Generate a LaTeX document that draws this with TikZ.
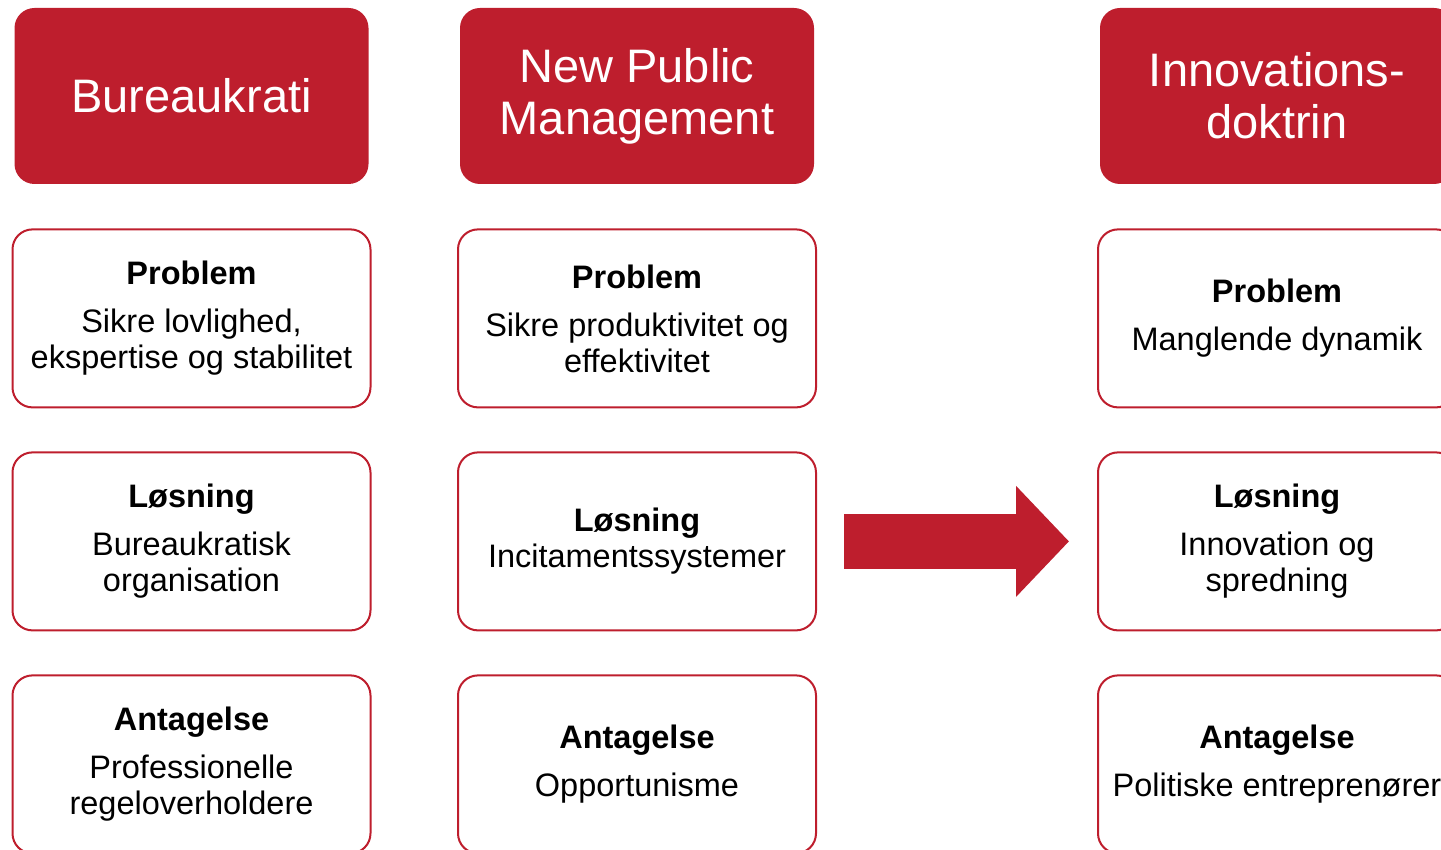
\documentclass[tikz,border=0pt]{standalone}
\usepackage{fontspec}
\setmainfont{Liberation Sans}
\usetikzlibrary{positioning, calc, arrows.meta}
\definecolor{dkred}{HTML}{BE1E2D}
\tikzset{
x=0.5pt, y=-0.5pt, % one unit is one pixel of the slide
node distance=21.5pt, % gap between the boxes of a column
head/.style={rectangle, rounded corners=10pt, fill=dkred, text=white, minimum width=177pt, minimum height=88pt, align=center, font=\fontsize{23.5}{26}\selectfont}, % red title boxes
item/.style={rectangle, rounded corners=10pt, draw=dkred, line width=1pt, fill=white, minimum width=179pt, minimum height=89pt, align=center, font=\fontsize{16.25}{18}\selectfont}, % white boxes
bigarrow/.style={draw=dkred, line width=27.5pt, -{Triangle[width=54pt, length=26.5pt]}, shorten <=13.5pt, shorten >=14pt}, % big arrow
}

\begin{document}
\begin{tikzpicture}
       \useasboundingbox (0,0) rectangle (1441,850);
       \clip (0,0) rectangle (1441,850);

       % titles
       \node[head] (bur) at (191.5,96) {Bureaukrati};
       \node[head] (npm) at (637,96) {New Public\\Management};
       \node[head] (inn) at (1277,96) {Innovations-\\doktrin};

       % Bureaukrati
       \node[item, below=22pt of bur] (burP) {\textbf{Problem}\\[6pt]Sikre lovlighed,\\ekspertise og stabilitet};
       \node[item, below=of burP] (burL) {\textbf{Løsning}\\[6pt]Bureaukratisk\\organisation};
       \node[item, below=of burL] (burA) {\textbf{Antagelse}\\[6pt]Professionelle\\regeloverholdere};

       % New Public Management
       \node[item, below=22pt of npm] (npmP) {\textbf{Problem}\\[6pt]Sikre produktivitet og\\effektivitet};
       \node[item, below=of npmP] (npmL) {\textbf{Løsning}\\Incitamentssystemer};
       \node[item, below=of npmL] (npmA) {\textbf{Antagelse}\\[6pt]Opportunisme};

       % Innovationsdoktrin
       \node[item, below=22pt of inn] (innP) {\textbf{Problem}\\[6pt]Manglende dynamik};
       \node[item, below=of innP] (innL) {\textbf{Løsning}\\[6pt]Innovation og\\spredning};
       \node[item, below=of innL] (innA) {\textbf{Antagelse}\\[6pt]Politiske entreprenører};

       \draw[bigarrow] (npmL) -- (innL);

  \end{tikzpicture}
\end{document}
